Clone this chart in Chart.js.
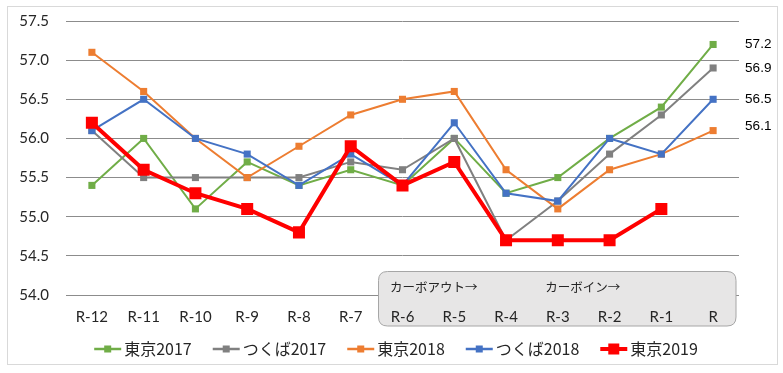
<!DOCTYPE html>
<html><head><meta charset="utf-8">
<script src="https://cdn.jsdelivr.net/npm/chart.js@4.4.1/dist/chart.umd.min.js"></script>
<style>html,body{margin:0;padding:0;background:#fff}#wrap{width:783px;height:373px;position:relative}</style>
</head><body><div id="wrap"><canvas id="c" width="783" height="373"></canvas></div>
<script>
const categories = ['R-12','R-11','R-10','R-9','R-8','R-7','R-6','R-5','R-4','R-3','R-2','R-1','R'];
const tokyo2017   = [55.4, 56.0, 55.1, 55.7, 55.4, 55.6, 55.4, 56.0, 55.3, 55.5, 56.0, 56.4, 57.2];
const tsukuba2017 = [56.1, 55.5, 55.5, 55.5, 55.5, 55.7, 55.6, 56.0, 54.7, 55.2, 55.8, 56.3, 56.9];
const tokyo2018   = [57.1, 56.6, 56.0, 55.5, 55.9, 56.3, 56.5, 56.6, 55.6, 55.1, 55.6, 55.8, 56.1];
const tsukuba2018 = [56.1, 56.5, 56.0, 55.8, 55.4, 55.8, 55.4, 56.2, 55.3, 55.2, 56.0, 55.8, 56.5];
const tokyo2019   = [56.2, 55.6, 55.3, 55.1, 54.8, 55.9, 55.4, 55.7, 54.7, 54.7, 54.7, 55.1, null];
const seriesNames = ['東京2017','つくば2017','東京2018','つくば2018','東京2019'];
const yMin = 54.0, yMax = 57.5, yStep = 0.5;
const annotationTexts = ['カーボアウト→','カーボイン→'];
const annotationAt = ['R-6','R-3'];

const colors = ['#70ad47','#808080','#ed7d31','#4472c4','#ff0000'];
const allData = [tokyo2017, tsukuba2017, tokyo2018, tsukuba2018, tokyo2019];

const datasets = allData.map((d,i)=>{
  const big = i===4;
  return {
    label: seriesNames[i], data: d,
    borderColor: colors[i], backgroundColor: colors[i],
    borderWidth: big?4:2, pointStyle:'rect',
    pointRadius: big?8.5:5, pointHoverRadius: big?8.5:5,
    pointBorderWidth:0, pointBackgroundColor: colors[i],
    tension:0, spanGaps:false, order: 5-i
  };
});

const boxPlugin = {
  id:'box',
  beforeDatasetsDraw(chart){
    const ctx = chart.ctx, xs = chart.scales.x, ca = chart.chartArea;
    const x0 = xs.getPixelForValue(6) - 24, x1 = ca.right - 3;
    const y0 = ca.bottom - 23.5, y1 = ca.bottom + 31;
    const r = 9;
    ctx.save();
    ctx.beginPath();
    ctx.moveTo(x0+r,y0); ctx.lineTo(x1-r,y0); ctx.quadraticCurveTo(x1,y0,x1,y0+r);
    ctx.lineTo(x1,y1-r); ctx.quadraticCurveTo(x1,y1,x1-r,y1);
    ctx.lineTo(x0+r,y1); ctx.quadraticCurveTo(x0,y1,x0,y1-r);
    ctx.lineTo(x0,y0+r); ctx.quadraticCurveTo(x0,y0,x0+r,y0);
    ctx.closePath();
    ctx.fillStyle='#e7e6e6'; ctx.fill();
    ctx.strokeStyle='#a6a6a6'; ctx.lineWidth=1; ctx.stroke();
    ctx.fillStyle='#262626';
    ctx.font='12.5px "Noto Sans CJK JP"';
    ctx.textBaseline='middle'; ctx.textAlign='left';
    annotationTexts.forEach((t,k)=>{
      const idx = categories.indexOf(annotationAt[k]);
      ctx.fillText(t, xs.getPixelForValue(idx) - 12.5, y0 + 15.5);
    });
    ctx.restore();
  },
  afterDraw(chart){
    const ctx = chart.ctx;
    ctx.save();
    ctx.strokeStyle='#d9d9d9'; ctx.lineWidth=1;
    ctx.strokeRect(7.5,6.5,770,358);
    const xs = chart.scales.x, ys = chart.scales.y;
    const last = categories.length-1;
    ctx.font='13.5px "Liberation Sans"'; ctx.fillStyle='#000';
    ctx.textBaseline='middle'; ctx.textAlign='left';
    allData.forEach((d,i)=>{
      const v = d[last];
      if (v==null) return;
      const nudge = (i===2)?-4:0;
      ctx.fillText(v.toFixed(1), xs.getPixelForValue(last)+32, ys.getPixelForValue(v)+nudge);
    });
    ctx.font='16px "Noto Sans CJK JP"';
    const lineLen=27, gapText=3, gapItem=21;
    const widths = seriesNames.map(n=>ctx.measureText(n).width);
    const total = widths.reduce((a,b)=>a+b,0) + seriesNames.length*(lineLen+gapText) + (seriesNames.length-1)*gapItem;
    let x = 396 - total/2; const y = 349;
    seriesNames.forEach((n,i)=>{
      const big = i===4;
      ctx.strokeStyle=colors[i]; ctx.lineWidth = big?4:2.5;
      ctx.beginPath(); ctx.moveTo(x,y); ctx.lineTo(x+lineLen,y); ctx.stroke();
      const s = big?11:7;
      ctx.fillStyle=colors[i]; ctx.fillRect(x+lineLen/2-s/2, y-s/2, s, s);
      ctx.fillStyle='#262626';
      ctx.fillText(n, x+lineLen+gapText, y);
      x += lineLen+gapText+widths[i]+gapItem;
    });
    ctx.restore();
  }
};

new Chart(document.getElementById('c'), {
  type:'line',
  data:{labels:categories, datasets},
  options:{
    responsive:false, animation:false, events:[],
    layout:{padding:{top:21,right:44,bottom:0,left:0}},
    plugins:{legend:{display:false}, tooltip:{enabled:false}},
    scales:{
      x:{offset:true,
        grid:{display:false}, border:{display:false},
        ticks:{z:1, color:'#262626', font:{family:'Lato', size:15}, padding:5, maxRotation:0, autoSkip:false},
        afterFit(s){ s.height = 78; }
      },
      y:{min:yMin,max:yMax,
        grid:{color:'#8c8c8c', lineWidth:1, drawTicks:false},
        border:{display:false},
        ticks:{stepSize:yStep, color:'#262626', font:{family:'Lato', size:15}, padding:17,
          callback:v=>Number(v).toFixed(1)},
        afterFit(s){ s.width = 66; s.paddingTop = 0; s.paddingBottom = 0; }
      }
    }
  },
  plugins:[boxPlugin]
});
</script></body></html>
